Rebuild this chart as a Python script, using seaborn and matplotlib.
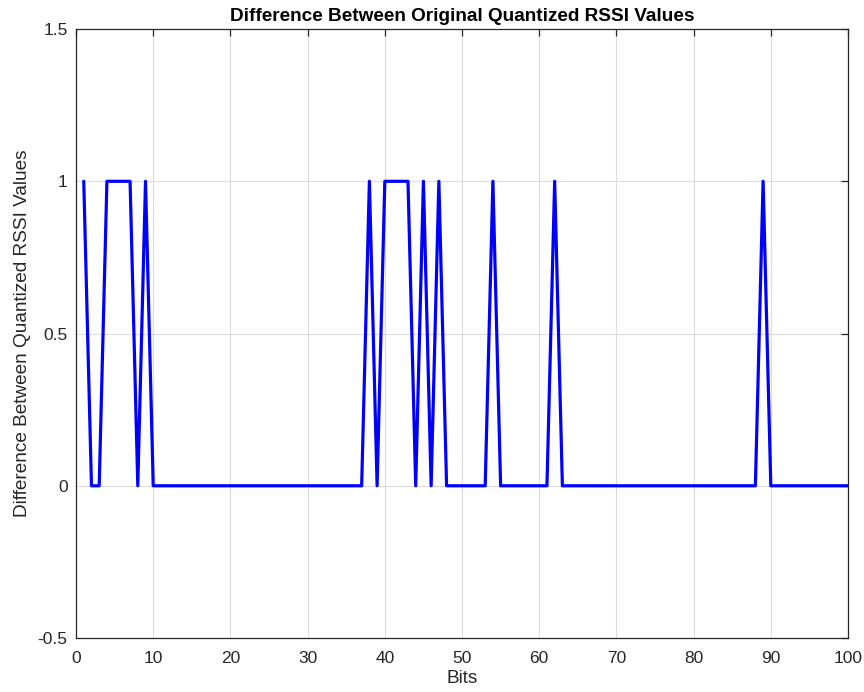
import numpy as np
import pandas as pd
import matplotlib
matplotlib.use("Agg")
import matplotlib.pyplot as plt
import seaborn as sns

bits = list(range(1, 101))
ones_at = [1, 4, 5, 6, 7, 9, 38, 40, 41, 42, 43, 45, 47, 54, 62, 89]
diff = [1 if b in ones_at else 0 for b in bits]

df = pd.DataFrame({"Bits": bits, "Diff": diff})

sns.set_theme(style="white")
plt.rcParams['font.family'] = ['Liberation Sans', 'DejaVu Sans']

fig = plt.figure(figsize=(8.64, 6.92), dpi=100)
ax = fig.add_axes([0.088, 0.078, 0.8935, 0.880])
sns.lineplot(data=df, x="Bits", y="Diff", ax=ax, color="#0000ff", linewidth=2.3)

ax.set_xlim(0, 100)
ax.set_ylim(-0.5, 1.5)
ax.set_xticks(np.arange(0, 101, 10))
ax.set_yticks([-0.5, 0, 0.5, 1, 1.5])
ax.set_yticklabels(["-0.5", "0", "0.5", "1", "1.5"])
ax.grid(True, color="#dcdcdc", linewidth=0.8)
ax.set_axisbelow(True)
for s in ax.spines.values():
    s.set_color("#262626")
    s.set_linewidth(0.9)
ax.tick_params(direction="in", top=True, right=True, length=5, width=0.9,
               colors="#262626", labelsize=12.5, labelcolor="#262626")
ax.tick_params(axis="x", pad=9)
ax.tick_params(axis="y", pad=6)
ax.set_xlabel("Bits", fontsize=13.7, color="#262626", labelpad=3)
ax.set_ylabel("Difference Between Quantized RSSI Values", fontsize=13.7, color="#262626", labelpad=5)
ax.set_title("Difference Between Original Quantized RSSI Values", fontsize=13.7,
             fontweight="bold", color="black", pad=6)

fig.savefig("out.png", dpi=100)
